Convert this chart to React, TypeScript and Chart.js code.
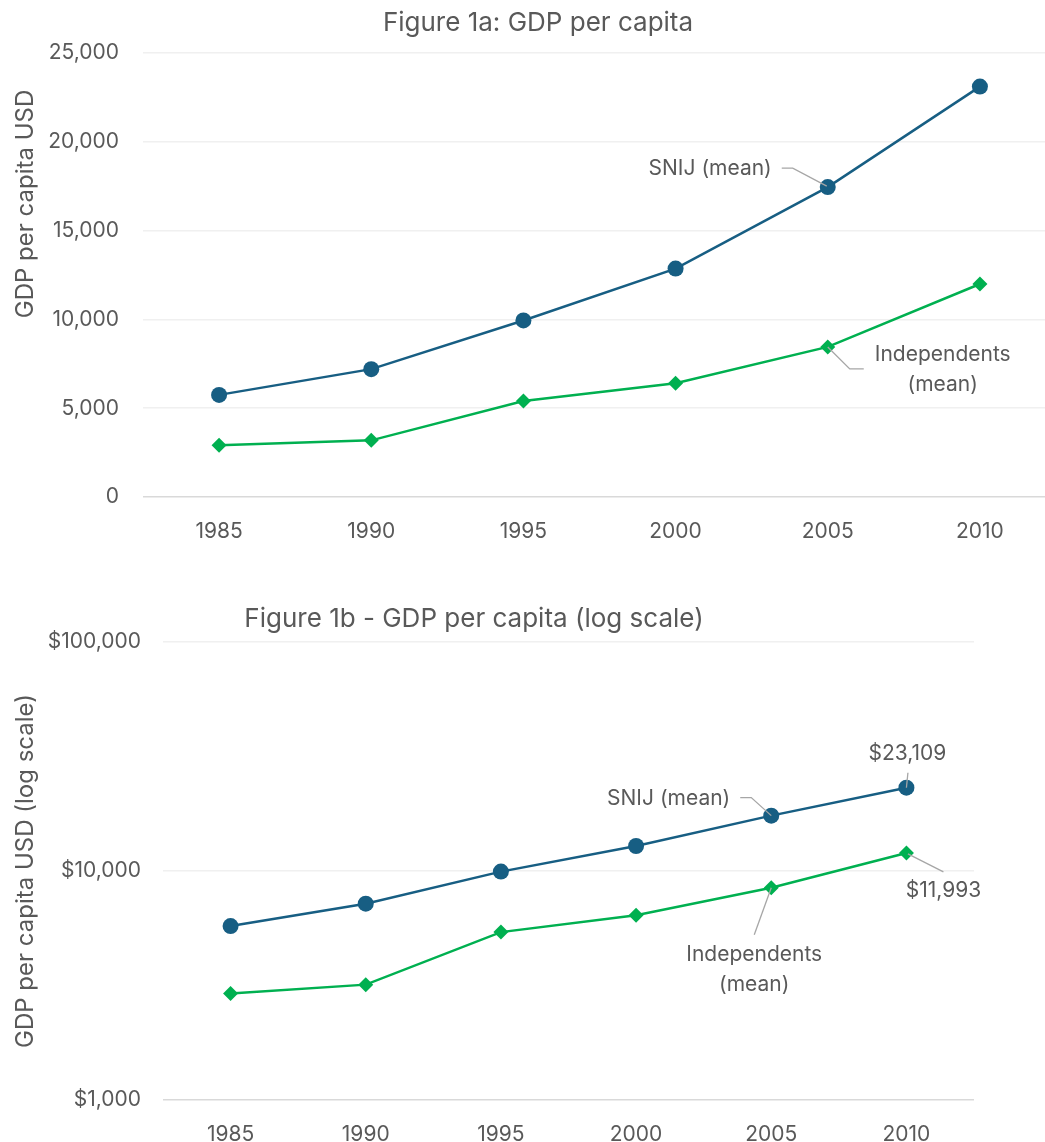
import React, { useEffect, useRef } from 'react';
import { Chart, registerables } from 'chart.js';

Chart.register(...registerables);

// ---- data ----
const years = ['1985', '1990', '1995', '2000', '2005', '2010'];
const snijMean = [5750, 7200, 9940, 12860, 17450, 23109];
const independentsMean = [2920, 3190, 5410, 6410, 8450, 11993];
const linearTickValues = [0, 5000, 10000, 15000, 20000, 25000];
const logTickValues = [1000, 10000, 100000];
const snijLabel = ['SNIJ (mean)'];
const independentsLabel = ['Independents', '(mean)'];
const titleA = 'Figure 1a: GDP per capita';
const titleB = 'Figure 1b - GDP per capita (log scale)';
const yTitleA = 'GDP per capita USD';
const yTitleB = 'GDP per capita USD (log scale)';

// ---- style ----
const FONT = 'Inter, "Noto Sans", sans-serif';
const TEXT = '#595959';
const BLUE = '#175e83';
const GREEN = '#00b050';
const LEADER = '#a6a6a6';
const GRID = '#f0f0f0';
const AXIS = '#d9d9d9';

type Pt = { x: number; y: number };

function drawText(ctx: CanvasRenderingContext2D, s: string, x: number, y: number, size: number, align: CanvasTextAlign = 'center') {
  ctx.save();
  ctx.font = `${size}px ${FONT}`;
  ctx.fillStyle = TEXT;
  ctx.textAlign = align;
  ctx.textBaseline = 'middle';
  ctx.fillText(s, x, y);
  ctx.restore();
}

function drawVertical(ctx: CanvasRenderingContext2D, s: string, baselineX: number, cy: number, size: number) {
  ctx.save();
  ctx.font = `${size}px ${FONT}`;
  ctx.fillStyle = TEXT;
  ctx.textAlign = 'center';
  ctx.textBaseline = 'alphabetic';
  ctx.translate(baselineX, cy);
  ctx.rotate(-Math.PI / 2);
  ctx.fillText(s, 0, 0);
  ctx.restore();
}

function leader(ctx: CanvasRenderingContext2D, pts: Pt[]) {
  ctx.save();
  ctx.strokeStyle = LEADER;
  ctx.lineWidth = 1.3;
  ctx.beginPath();
  pts.forEach((p, i) => (i ? ctx.lineTo(p.x, p.y) : ctx.moveTo(p.x, p.y)));
  ctx.stroke();
  ctx.restore();
}

const money = (v: number) => '$' + Math.round(v).toLocaleString('en-US');

function datasets() {
  return [
    {
      label: snijLabel.join(' '),
      data: snijMean,
      borderColor: BLUE,
      backgroundColor: BLUE,
      borderWidth: 2.5,
      pointStyle: 'circle' as const,
      pointRadius: 8,
      pointBorderWidth: 0,
    },
    {
      label: independentsLabel.join(' '),
      data: independentsMean,
      borderColor: GREEN,
      backgroundColor: GREEN,
      borderWidth: 2.5,
      pointStyle: 'rectRot' as const,
      pointRadius: 7.5,
      pointBorderWidth: 0,
    },
  ];
}

function xScale(height: number) {
  return {
    type: 'category' as const,
    offset: true,
    grid: { display: false, drawTicks: false },
    border: { display: false },
    ticks: { color: TEXT, font: { family: FONT, size: 21 }, padding: 22, maxRotation: 0 },
    afterFit: (s: any) => { s.height = height; },
  };
}

const TOP_W = 1064;

function App() {
  const topRef = useRef<HTMLCanvasElement>(null);
  const botRef = useRef<HTMLCanvasElement>(null);

  useEffect(() => {
    const top = new Chart(topRef.current!, {
      type: 'line',
      data: { labels: years, datasets: datasets() },
      options: {
        responsive: false,
        animation: false,
        layout: { padding: { top: 53, right: 0, left: 0, bottom: 0 } },
        plugins: { legend: { display: false }, tooltip: { enabled: false }, title: { display: false } },
        scales: {
          x: xScale(83),
          y: {
            type: 'linear',
            min: linearTickValues[0],
            max: linearTickValues[linearTickValues.length - 1],
            afterBuildTicks: (s: any) => { s.ticks = linearTickValues.map((v) => ({ value: v })); },
            grid: {
              drawTicks: false,
              lineWidth: 1.5,
              color: (c: any) => (c.tick && c.tick.value === linearTickValues[0] ? AXIS : GRID),
            },
            border: { display: false },
            ticks: {
              color: TEXT,
              font: { family: FONT, size: 21 },
              padding: 24,
              callback: (v: any) => Number(v).toLocaleString('en-US'),
            },
            afterFit: (s: any) => { s.width = 143; },
          },
        },
      },
      plugins: [
        {
          id: 'overlayTop',
          afterDraw: (chart: any) => {
            const ctx = chart.ctx as CanvasRenderingContext2D;
            drawText(ctx, titleA, 538, 23, 26);
            drawVertical(ctx, yTitleA, 33, 204, 24);
            const s = chart.getDatasetMeta(0).data[4] as Pt;
            const g = chart.getDatasetMeta(1).data[4] as Pt;
            // SNIJ label
            leader(ctx, [
              { x: s.x - 46, y: s.y - 19 },
              { x: s.x - 35, y: s.y - 19 },
              { x: s.x - 1, y: s.y - 1 },
            ]);
            drawText(ctx, snijLabel[0], s.x - 56, s.y - 18, 21, 'right');
            // Independents label
            leader(ctx, [
              { x: g.x + 36, y: g.y + 22 },
              { x: g.x + 22, y: g.y + 22 },
              { x: g.x, y: g.y },
            ]);
            drawText(ctx, independentsLabel[0], g.x + 115, g.y + 8, 21);
            drawText(ctx, independentsLabel[1], g.x + 115, g.y + 38, 21);
          },
        },
      ],
    } as any);

    const bot = new Chart(botRef.current!, {
      type: 'line',
      data: { labels: years, datasets: datasets() },
      options: {
        responsive: false,
        animation: false,
        layout: { padding: { top: 62, right: 71, left: 0, bottom: 0 } },
        plugins: { legend: { display: false }, tooltip: { enabled: false }, title: { display: false } },
        scales: {
          x: xScale(42),
          y: {
            type: 'logarithmic',
            min: logTickValues[0],
            max: logTickValues[logTickValues.length - 1],
            afterBuildTicks: (s: any) => { s.ticks = logTickValues.map((v) => ({ value: v })); },
            grid: {
              drawTicks: false,
              lineWidth: 1.5,
              color: (c: any) => (c.tick && c.tick.value === logTickValues[0] ? AXIS : GRID),
            },
            border: { display: false },
            ticks: {
              color: TEXT,
              font: { family: FONT, size: 21 },
              padding: 22,
              callback: (v: any) => money(Number(v)),
            },
            afterFit: (s: any) => { s.width = 163; },
          },
        },
      },
      plugins: [
        {
          id: 'overlayBottom',
          afterDraw: (chart: any) => {
            const ctx = chart.ctx as CanvasRenderingContext2D;
            const area = chart.chartArea;
            drawText(ctx, titleB, 474, 39, 26);
            drawVertical(ctx, yTitleB, 33, (area.top + area.bottom) / 2, 24);
            const s5 = chart.getDatasetMeta(0).data[4] as Pt;
            const s6 = chart.getDatasetMeta(0).data[5] as Pt;
            const g5 = chart.getDatasetMeta(1).data[4] as Pt;
            const g6 = chart.getDatasetMeta(1).data[5] as Pt;
            // last SNIJ value
            leader(ctx, [
              { x: s6.x + 1.5, y: s6.y - 15 },
              { x: s6.x, y: s6.y },
            ]);
            drawText(ctx, money(snijMean[snijMean.length - 1]), s6.x + 1, s6.y - 34, 21);
            // SNIJ label
            leader(ctx, [
              { x: s5.x - 31, y: s5.y - 18 },
              { x: s5.x - 20, y: s5.y - 18 },
              { x: s5.x, y: s5.y },
            ]);
            drawText(ctx, snijLabel[0], s5.x - 41, s5.y - 17, 21, 'right');
            // last Independents value
            leader(ctx, [
              { x: g6.x + 37, y: g6.y + 19 },
              { x: g6.x + 1.5, y: g6.y + 1 },
            ]);
            drawText(ctx, money(independentsMean[independentsMean.length - 1]), g6.x + 37, g6.y + 38, 21);
            // Independents label
            leader(ctx, [
              { x: g5.x - 17, y: g5.y + 47 },
              { x: g5.x, y: g5.y },
            ]);
            drawText(ctx, independentsLabel[0], g5.x - 17, g5.y + 67, 21);
            drawText(ctx, independentsLabel[1], g5.x - 17, g5.y + 97, 21);
          },
        },
      ],
    } as any);

    return () => {
      top.destroy();
      bot.destroy();
    };
  }, []);

  return (
    <div style={{ position: 'absolute', left: 0, top: 0, width: 1045, height: 1142, overflow: 'hidden', background: '#fff' }}>
      <div style={{ position: 'absolute', left: 0, top: 0, width: TOP_W, height: 580 }}>
        <canvas ref={topRef} width={TOP_W} height={580} style={{ display: 'block' }} />
      </div>
      <div style={{ position: 'absolute', left: 0, top: 580, width: 1045, height: 562 }}>
        <canvas ref={botRef} width={1045} height={562} style={{ display: 'block' }} />
      </div>
    </div>
  );
}

export default App;
